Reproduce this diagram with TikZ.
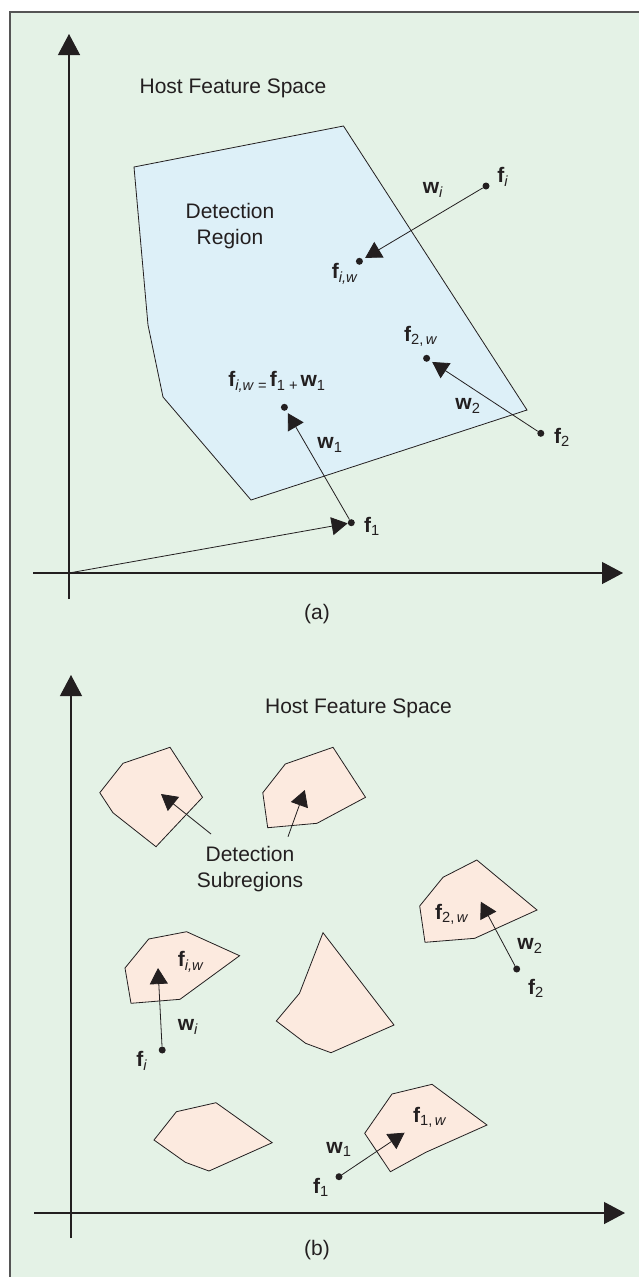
\documentclass[tikz,border=0pt]{standalone}
\usepackage{fontspec}
\setmainfont{Liberation Sans}
\usepackage{xcolor}
\definecolor{cInk}{HTML}{231F20}
\definecolor{cFrame}{HTML}{555555}
\definecolor{cBg}{HTML}{E4F2E6}
\definecolor{cRegion}{HTML}{DDF0F8}
\definecolor{cSub}{HTML}{FCEADF}
\usepackage{tikz}
\usetikzlibrary{positioning,arrows.meta}
\newcommand{\fv}[1]{\textbf{f}\textsubscript{#1}}
\newcommand{\wv}[1]{\textbf{w}\textsubscript{#1}}
\tikzset{
  axis-line/.style={-{Triangle[length=21pt,width=22pt]},line width=1.2pt,draw=cInk},
  region-main/.style={draw=cInk,line width=0.8pt,fill=cRegion},
  region-sub/.style={draw=cInk,line width=0.8pt,fill=cSub},
  pt-dot/.style={circle,fill=cInk,inner sep=0pt,minimum size=7pt},
  vec-arrow/.style={-{Triangle[length=16pt,width=18pt]},line width=0.8pt,draw=cInk,shorten >=3pt},
  lbl/.style={inner sep=0pt,text=cInk,align=center,font=\fontsize{21}{26}\selectfont},
}

\begin{document}
\begin{tikzpicture}[x=1pt,y=-1pt]
  \useasboundingbox (0,0) rectangle (639,1277);
  \fill[white] (0,0) rectangle (639,1277);
  \fill[cBg] (10,12) rectangle (639,1277);
  \draw[cFrame,line width=1.5pt] (10,1277) -- (10,12) -- (639,12);

  % ---- (a) one detection region
  \coordinate (oa) at (69,573);
  \coordinate (ya0) at (69,599);
  \coordinate (ya1) at (69,34);
  \coordinate (xa0) at (33,573);
  \coordinate (xa1) at (623,573);
  \draw[axis-line] (ya0) -- (ya1);
  \draw[axis-line] (xa0) -- (xa1);
  \node[lbl] (hfs-a) at (233,88) {Host Feature Space};
  \draw[region-main] (134,167) -- (148,325) -- (163,397) -- (251,500)
    -- (527,410) -- (343.5,126) -- cycle;
  \node[lbl] (reg-a) at (230,226) {Detection\\Region};

  \node[pt-dot] (fi-a)  at (486,186) {};
  \node[pt-dot] (fiw-a) at (359.4,261.3) {};
  \node[pt-dot] (f2w-a) at (426.6,358.3) {};
  \node[pt-dot] (f2-a)  at (540.8,433.3) {};
  \node[pt-dot] (f1w-a) at (284.4,407.3) {};
  \node[pt-dot] (f1-a)  at (351.3,522.7) {};

  \node[lbl] (lfi-a)  at (503,177) {\fv{\textit{i}}};
  \node[lbl] (lwi-a)  at (433,190) {\wv{\textit{i}}};
  \node[lbl] (lfiw-a) at (345,274) {\fv{\textit{i,w}}};
  \node[lbl] (lf2w-a) at (421,336) {\fv{2,\,\textit{w}}};
  \node[lbl] (lf2-a)  at (562,437) {\fv{2}};
  \node[lbl] (lw2-a)  at (468,406) {\wv{2}};
  \node[lbl] (lsum-a) at (277,382) {\fv{\textit{i,w} =\,}\fv{1 +\,}\wv{1}};
  \node[lbl] (lf1-a)  at (372,526) {\fv{1}};
  \node[lbl] (lw1-a)  at (330,445) {\wv{1}};

  \draw[vec-arrow] (fi-a) -- (fiw-a);
  \draw[vec-arrow] (f2-a) -- (f2w-a);
  \draw[vec-arrow] (f1-a) -- (f1w-a);
  \draw[vec-arrow,shorten >=0pt] (oa) -- (f1-a);
  \node[lbl] (cap-a) at (317,614) {(a)};

  % ---- (b) many detection subregions
  \coordinate (yb0) at (71,1238);
  \coordinate (yb1) at (71,675);
  \coordinate (xb0) at (34,1213);
  \coordinate (xb1) at (625,1213);
  \draw[axis-line] (yb0) -- (yb1);
  \draw[axis-line] (xb0) -- (xb1);
  \node[lbl] (hfs-b) at (358.5,708) {Host Feature Space};

  \draw[region-sub] (99.8,792.7) -- (123,763.3) -- (170,747.3) -- (202.5,797.3)
    -- (156,846.7) -- (112.9,812.7) -- cycle;
  \draw[region-sub] (262.8,792.7) -- (285.3,764) -- (333,747.3) -- (365.5,797.3)
    -- (317,823.3) -- (267.7,827.7) -- cycle;
  \draw[region-sub] (419.7,906) -- (443,877.3) -- (476.8,860) -- (537,910)
    -- (474.7,938.3) -- (425,942.3) -- cycle;
  \draw[region-sub] (125,968) -- (148.7,939) -- (186.6,931.7) -- (239.6,955.7)
    -- (180,999.3) -- (131,1003.3) -- cycle;
  \draw[region-sub] (323,932.7) -- (394,1025) -- (331,1052.7) -- (305.6,1043.3)
    -- (276.3,1021) -- (299.5,993.3) -- cycle;
  \draw[region-sub] (154,1140) -- (176.4,1111.7) -- (216,1102.7) -- (272.2,1142.7)
    -- (209,1171) -- (185.4,1162.3) -- cycle;
  \draw[region-sub] (364.7,1133.3) -- (392,1094) -- (432,1084.3) -- (487,1125)
    -- (425.8,1152.3) -- (390.4,1171.7) -- cycle;

  \node[lbl] (sub-b) at (250,869) {Detection\\Subregions};
  \coordinate (sa0) at (211,834);
  \coordinate (sa1) at (161,794);
  \coordinate (sb0) at (288,836.7);
  \coordinate (sb1) at (304.8,790);
  \draw[vec-arrow,shorten >=0pt] (sa0) -- (sa1);
  \draw[vec-arrow,shorten >=0pt] (sb0) -- (sb1);

  \node[pt-dot] (f2-b) at (516.7,969) {};
  \node[pt-dot] (fi-b) at (162.2,1050) {};
  \node[pt-dot] (f1-b) at (339,1176.7) {};
  \coordinate (f2w-b) at (480.8,901.7);
  \coordinate (fiw-b) at (158,968);
  \coordinate (f1w-b) at (404.6,1132.7);
  \draw[vec-arrow,shorten >=0pt] (f2-b) -- (f2w-b);
  \draw[vec-arrow,shorten >=0pt] (fi-b) -- (fiw-b);
  \draw[vec-arrow,shorten >=0pt] (f1-b) -- (f1w-b);

  \node[lbl] (lf2w-b) at (452,914) {\fv{2,\,\textit{w}}};
  \node[lbl] (lw2-b)  at (530,946) {\wv{2}};
  \node[lbl] (lf2-b)  at (536,988) {\fv{2}};
  \node[lbl] (lfiw-b) at (191,962) {\fv{\textit{i,w}}};
  \node[lbl] (lwi-b)  at (188,1027) {\wv{\textit{i}}};
  \node[lbl] (lfi-b)  at (142,1061) {\fv{\textit{i}}};
  \node[lbl] (lf1w-b) at (430,1117) {\fv{1,\,\textit{w}}};
  \node[lbl] (lw1-b)  at (339,1149) {\wv{1}};
  \node[lbl] (lf1-b)  at (321,1187) {\fv{1}};
  \node[lbl] (cap-b)  at (317,1250) {(b)};
\end{tikzpicture}
\end{document}
